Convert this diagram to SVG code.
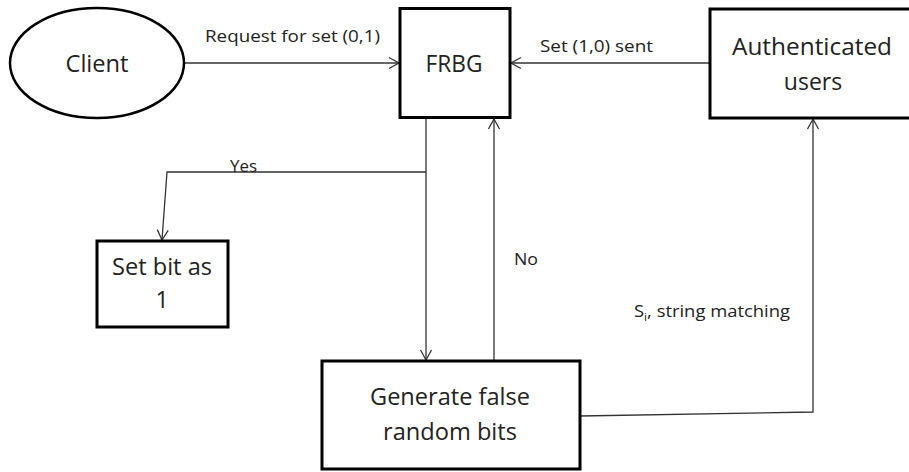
<svg xmlns="http://www.w3.org/2000/svg" width="909" height="472" viewBox="0 0 909 472">
  <defs>
    <marker id="arrow" markerUnits="userSpaceOnUse" markerWidth="14" markerHeight="14" viewBox="-11 -7 13 14" refX="0" refY="0" orient="auto">
      <path d="M-10,-5.5 L0,0 L-10,5.5" fill="none" stroke="#333" stroke-width="1.3"/>
    </marker>
    <style>
      .node { fill: #fff; stroke: #000; stroke-width: 3; }
      .ell { fill: #fff; stroke: #000; stroke-width: 2.5; }
      .nt { font-family: "Open Sans", "Liberation Sans", sans-serif; font-size: 23px; fill: #222; text-anchor: middle; }
      .lbl { font-family: "Open Sans", "Liberation Sans", sans-serif; font-size: 17px; fill: #222; }
      .edge { fill: none; stroke: #333; stroke-width: 1.3; }
    </style>
  </defs>
  <rect width="909" height="472" fill="#fff"/>

  <g id="connectors">
    <path class="edge" d="M184,63 H399" marker-end="url(#arrow)"/>
    <path class="edge" d="M710,63 H511" marker-end="url(#arrow)"/>
    <path class="edge" d="M426,118 V360" marker-end="url(#arrow)"/>
    <path class="edge" d="M426,172 H167 L162,240" marker-end="url(#arrow)"/>
    <path class="edge" d="M494,361 V119" marker-end="url(#arrow)"/>
    <path class="edge" d="M580,416 L813,412 V119" marker-end="url(#arrow)"/>
    <text class="lbl" x="205" y="42" textLength="175" lengthAdjust="spacingAndGlyphs">Request for set (0,1)</text>
    <text class="lbl" x="540" y="52" textLength="113" lengthAdjust="spacingAndGlyphs">Set (1,0) sent</text>
    <text class="lbl" x="230" y="172" textLength="27" lengthAdjust="spacingAndGlyphs">Yes</text>
    <text class="lbl" x="514" y="265" textLength="24" lengthAdjust="spacingAndGlyphs">No</text>
    <text class="lbl" x="634" y="317" textLength="156" lengthAdjust="spacingAndGlyphs">S<tspan dy="4" font-size="11">i</tspan><tspan dy="-4">, string matching</tspan></text>
  </g>

  <g id="client">
    <ellipse class="ell" cx="97" cy="63" rx="87" ry="55"/>
    <text class="nt" x="97" y="72" textLength="63" lengthAdjust="spacingAndGlyphs">Client</text>
  </g>

  <g id="frbg">
    <rect class="node" x="400" y="8.5" width="110" height="109"/>
    <text class="nt" x="454" y="72" textLength="57" lengthAdjust="spacingAndGlyphs">FRBG</text>
  </g>

  <g id="authenticated-users">
    <rect class="node" x="710" y="9" width="210" height="109"/>
    <text class="nt" x="812" y="55" textLength="160" lengthAdjust="spacingAndGlyphs">Authenticated</text>
    <text class="nt" x="813" y="90">users</text>
  </g>

  <g id="set-bit">
    <rect class="node" x="97" y="241" width="131" height="86"/>
    <text class="nt" x="162" y="275" textLength="100" lengthAdjust="spacingAndGlyphs">Set bit as</text>
    <text class="nt" x="162" y="308">1</text>
  </g>

  <g id="generate">
    <rect class="node" x="322" y="361" width="258" height="108"/>
    <text class="nt" x="450" y="405" textLength="160" lengthAdjust="spacingAndGlyphs">Generate false</text>
    <text class="nt" x="450" y="440" textLength="134" lengthAdjust="spacingAndGlyphs">random bits</text>
  </g>
</svg>
